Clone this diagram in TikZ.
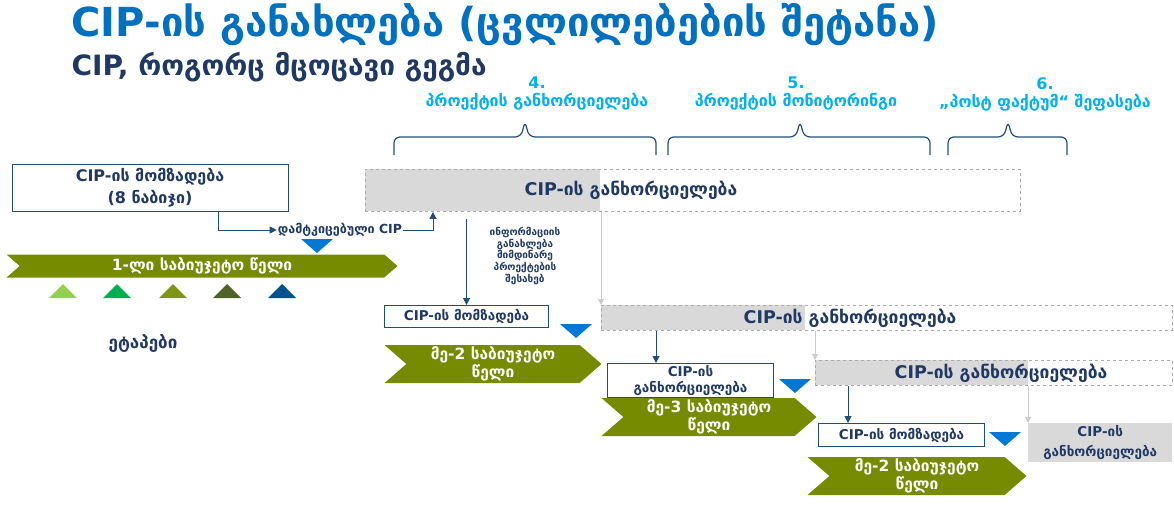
\documentclass[tikz,border=0pt]{standalone}
\usepackage{fontspec}
\setmainfont{DejaVu Sans}
\usetikzlibrary{shapes.symbols,arrows.meta}

\definecolor{titleblue}{RGB}{0,112,192}
\definecolor{navy}{RGB}{32,56,100}
\definecolor{stageblue}{RGB}{0,176,240}
\definecolor{lineblue}{RGB}{31,78,121}
\definecolor{budgetgreen}{RGB}{119,139,0}
\definecolor{markblue}{RGB}{0,120,212}
\definecolor{implgray}{RGB}{217,217,217}
\definecolor{dashgray}{RGB}{170,170,170}
\definecolor{arrowgray}{RGB}{205,205,205}
\definecolor{tri1}{RGB}{146,208,80}
\definecolor{tri2}{RGB}{0,176,80}
\definecolor{tri3}{RGB}{127,150,20}
\definecolor{tri4}{RGB}{79,98,40}
\definecolor{tri5}{RGB}{0,82,140}

\newcommand{\geosize}[2]{\fontsize{#1}{#2}\selectfont}

\tikzset{
	prepbox/.style={draw=lineblue, fill=white, line width=1pt, text=navy, align=center, inner sep=0pt, font=\bfseries\geosize{13.5}{20}},
	implbox/.style={draw=dashgray, dashed, line width=0.9pt, inner sep=0pt},
	impltext/.style={text=navy, font=\bfseries\geosize{17.5}{20}},
	budget/.style={signal, signal to=east, signal from=west, signal pointer angle=82, fill=budgetgreen, text=white, align=center, inner sep=0pt, font=\bfseries\geosize{15.5}{16}},
	flow/.style={draw=lineblue, line width=1pt, -{Triangle[length=7pt,width=7pt]}},
	grayflow/.style={draw=arrowgray, line width=1pt, -{Triangle[length=6pt,width=6pt]}},
	stage/.style={text=stageblue, font=\bfseries\geosize{16}{18}, align=center},
	stagebrace/.style={draw=lineblue, line width=1.2pt, rounded corners=6pt}
}

\begin{document}
\begin{tikzpicture}[x=1pt, y=-1pt]
	\useasboundingbox (0,0) rectangle (1174,519);

	% heading
	\node[anchor=west, text=titleblue, font=\bfseries\geosize{40}{42}] (title) at (68,25) {CIP-ის განახლება (ცვლილებების შეტანა)};
	\node[anchor=west, text=navy, font=\bfseries\geosize{28}{30}] (subtitle) at (68,67) {CIP, როგორც მცოცავი გეგმა};

	% stages with braces
	\node[stage] (st4) at (537,94) {4.\\პროექტის განხორციელება};
	\node[stage] (st5) at (796,94) {5.\\პროექტის მონიტორინგი};
	\node[stage] (st6) at (1045,94) {6.\\„პოსტ ფაქტუმ“ შეფასება};

	\draw[stagebrace] (394,155) -- (394,137) -- (521,137) -- (525,121) -- (529,137) -- (656,137) -- (656,155);
	\draw[stagebrace] (668,155) -- (668,137) -- (796,137) -- (800,121) -- (804,137) -- (930,137) -- (930,155);
	\draw[stagebrace] (948,155) -- (948,137) -- (1004,137) -- (1008,121) -- (1012,137) -- (1067,137) -- (1067,155);

	% first year
	\node[prepbox, minimum width=276pt, minimum height=47pt, font=\bfseries\geosize{16}{22}] (prep1) at (150,188) {CIP-ის მომზადება\\(8 ნაბიჯი)};
	\node[text=navy, font=\bfseries\geosize{12.5}{13}, inner sep=1pt] (approved) at (340,230) {დამტკიცებული CIP};
	\node[budget, minimum width=391pt, minimum height=23pt] (year1) at (202,266) {1-ლი საბიუჯეტო წელი};
	\node[text=navy, font=\bfseries\geosize{17}{18}] (stages) at (143,343) {ეტაპები};

	\foreach \x/\c in {63/tri1, 117/tri2, 173/tri3, 227/tri4, 282/tri5}
		\fill[\c] (\x-14,298) -- (\x+14,298) -- (\x,284) -- cycle;

	% implementation boxes
	\fill[implgray] (365,169) rectangle (600,211);
	\node[implbox, anchor=north west, minimum width=655pt, minimum height=42pt] (impl1) at (365,169) {};
	\node[impltext] (impl1txt) at (631,190) {CIP-ის განხორციელება};

	\fill[implgray] (601,305) rectangle (805,330);
	\node[implbox, anchor=north west, minimum width=571pt, minimum height=25pt] (impl2) at (601,305) {};
	\node[impltext] (impl2txt) at (850,318) {CIP-ის განხორციელება};

	\fill[implgray] (815,360) rectangle (1028,385);
	\node[implbox, anchor=north west, minimum width=357pt, minimum height=25pt] (impl3) at (815,360) {};
	\node[impltext] (impl3txt) at (1001,373) {CIP-ის განხორციელება};

	\node[fill=implgray, text=navy, align=center, font=\bfseries\geosize{13.5}{20}, anchor=north west, minimum width=144pt, minimum height=39pt, inner sep=0pt] (impl4) at (1028,423) {CIP-ის\\განხორციელება};

	% second year
	\node[text=navy, align=center, font=\bfseries\geosize{10}{10}] (info) at (525,256) {ინფორმაციის\\განახლება\\მიმდინარე\\პროექტების\\შესახებ};
	\node[prepbox, anchor=north west, minimum width=164pt, minimum height=22pt] (prep2) at (384,305) {CIP-ის მომზადება};
	\node[budget, minimum width=217pt, minimum height=38pt] (year2) at (493,364) {მე-2 საბიუჯეტო\\წელი};

	% third year
	\node[prepbox, anchor=north west, minimum width=166pt, minimum height=34pt, font=\bfseries\geosize{13.5}{16}] (run2) at (607,363) {CIP-ის\\განხორციელება};
	\node[budget, minimum width=215pt, minimum height=38pt] (year3) at (709,417) {მე-3 საბიუჯეტო\\წელი};

	% next cycle
	\node[prepbox, anchor=north west, minimum width=166pt, minimum height=23pt] (prep3) at (818,423) {CIP-ის მომზადება};
	\node[budget, minimum width=219pt, minimum height=38pt] (year4) at (917,476) {მე-2 საბიუჯეტო\\წელი};

	% markers
	\foreach \x/\y in {317/246, 576/331, 795/386, 1005/439}
		\fill[markblue] (\x-16,\y-7) -- (\x+16,\y-7) -- (\x,\y+7) -- cycle;

	% connectors
	\draw[flow] ([xshift=68pt]prep1.south) |- (approved.west);
	\draw[flow] (approved.east) -| ([xshift=68pt]impl1.south west);
	\draw[flow, shorten <=7pt] (prep2.north |- impl1.south) -- (prep2.north);
	\draw[grayflow] (impl2.north west |- impl1.south) -- (impl2.north west);
	\draw[flow] ([xshift=55pt]impl2.south west) -- ([xshift=55pt]impl2.south west |- run2.north);
	\draw[grayflow] (impl3.north west |- impl2.south) -- (impl3.north west);
	\draw[flow] ([xshift=33pt]impl3.south west) -- ([xshift=33pt]impl3.south west |- prep3.north);
	\draw[grayflow] (impl4.north west |- impl3.south) -- (impl4.north west);
\end{tikzpicture}
\end{document}
